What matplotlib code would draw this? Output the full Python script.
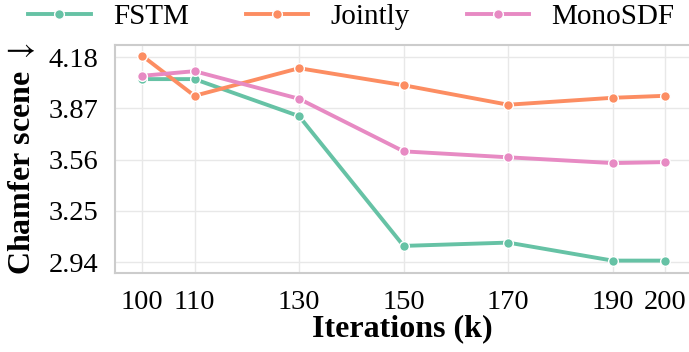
import matplotlib
matplotlib.use("Agg")
import matplotlib.pyplot as plt

plt.rcParams['font.family'] = ['Liberation Serif', 'DejaVu Serif']
plt.rcParams['mathtext.fontset'] = 'stix'

# 数据
iterations = [100, 110, 130, 150, 170, 190, 200]
fstm = [4.047, 4.047, 3.823, 3.038, 3.058, 2.949, 2.949]
jointly = [4.188, 3.946, 4.113, 4.010, 3.892, 3.934, 3.946]
monosdf = [4.067, 4.095, 3.928, 3.610, 3.574, 3.539, 3.545]
y_ticks = [2.94, 3.25, 3.56, 3.87, 4.18]

series = [("FSTM", fstm, "#66c2a5"),
          ("Jointly", jointly, "#fc8d62"),
          ("MonoSDF", monosdf, "#e78ac3")]

fig = plt.figure(figsize=(6.89, 3.52), dpi=100)
ax = fig.add_axes([0.167, 0.2244, 0.833, 0.6476])

for name, vals, color in series:
    ax.plot(iterations, vals, color=color, linewidth=2.8, marker='o',
            markersize=7, markeredgecolor='white', markeredgewidth=1.0,
            label=name)

ax.set_xlim(94.8, 204.6)
ax.set_ylim(2.874, 4.253)
ax.set_xticks(iterations)
ax.set_yticks(y_ticks)
ax.set_yticklabels([f"{v:.2f}" for v in y_ticks])
ax.tick_params(labelsize=20.5, length=0)
ax.tick_params(axis='y', pad=12)
ax.tick_params(axis='x', pad=12)
ax.grid(True, color='#e8e8e8', linewidth=1.0)
ax.set_axisbelow(True)

for side in ['left', 'bottom', 'top']:
    ax.spines[side].set_color('#cccccc')
    ax.spines[side].set_linewidth(1.5)
ax.spines['right'].set_visible(False)

# 越低越好，箭头随标签旋转后指向右侧
ax.set_xlabel('Iterations (k)', fontsize=23, fontweight='bold', labelpad=0)
ax.set_ylabel('Chamfer scene $\\downarrow$', fontsize=23, fontweight='bold', labelpad=8)

fig.legend(loc='center', bbox_to_anchor=(0.51, 0.952), ncol=3, frameon=False,
           fontsize=21, handlelength=2.14, handletextpad=0.76, columnspacing=1.96)

plt.savefig('out.png', dpi=100)
